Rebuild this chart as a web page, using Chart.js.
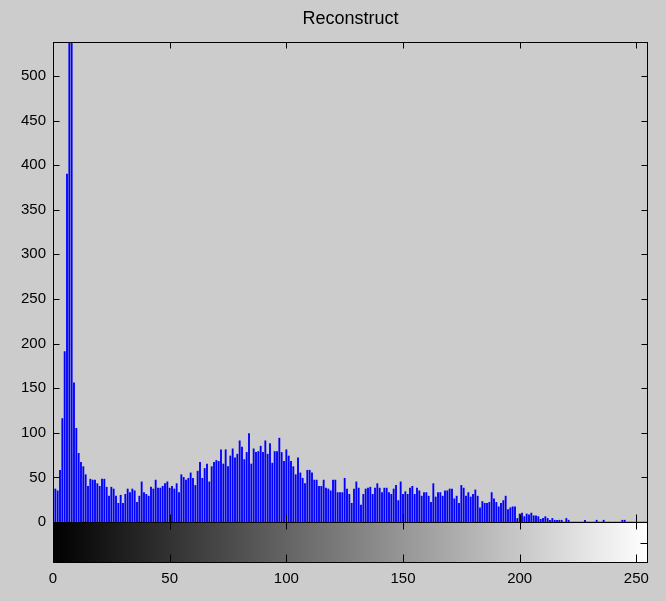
<!DOCTYPE html>
<html><head><meta charset="utf-8">
<script src="https://cdn.jsdelivr.net/npm/chart.js@4.4.1/dist/chart.umd.min.js"></script>
<style>html,body{margin:0;padding:0;background:#cccccc;overflow:hidden}#wrap{width:666px;height:601px}</style>
</head><body><div id="wrap"><canvas id="c" width="666" height="601"></canvas></div>
<script>
const titleText = "Reconstruct";
// histogram counts for intensity levels 0..255
const counts0 = [41,37,35,58,116,191,390,1450,880,156,105,77,67,62,53,40,48,47,47,43,40,48,48,39,29,39,37,29,21,30,21,31,37,33,37,35,22,29,45,33,31,29,39,37,47,38];
const counts1 = [38,40,43,45,38,40,37,43,33,53,50,47,49,55,49,41,57,67,49,60,65,45,62,67,69,68,81,65,81,62,74,82,72,76,91,84,70,78,99,65,82,78,79,85,78];
const counts2 = [91,76,88,66,79,79,94,78,68,81,74,68,62,53,72,55,49,43,58,58,55,47,47,40,40,47,38,37,35,47,47,33,33,33,49,37,31,21,37,45,38,19,31,37,38,39];
const counts3 = [31,38,43,38,33,38,38,33,31,37,41,24,45,31,34,31,38,40,31,38,35,29,33,33,29,22,43,28,33,33,29,35,35,37,37,26,29,21,41,38,29,33,28,31,36];
const counts4 = [29,16,23,21,21,22,33,26,22,17,21,24,29,14,16,17,17,4,9,10,6,9,8,10,7,7,6,3,4,6,4,2,4,2,2,2,2,0,4,2,0,0,0,0,0,0,2,0,0,0,0,2,0,0,2,0,0,0,0,0,0,0,2,2,0,0,0,0,0,0,0,0,0,0];
const counts = counts0.concat(counts1, counts2, counts3, counts4);
const xTicks = [0,50,100,150,200,250];
const yTicks = [0,50,100,150,200,250,300,350,400,450,500];
const xMin = 0, xMax = 255, yMin = 0, yMax = 538;

const tickFont = {family:"'Liberation Sans',Arial,sans-serif", size:15};
const titleFont = {family:"'Liberation Sans',Arial,sans-serif", size:18, weight:'normal'};

const axesPlugin = {
  id: 'matlabAxes',
  afterDraw(chart) {
    const {ctx, chartArea: a, scales: {x, y}} = chart;
    const L = Math.round(a.left) + 0.5, R = Math.round(a.right) - 0.5;
    const T = Math.round(a.top) + 0.5, B = Math.round(a.bottom) + 0.5;
    const cbB = B + 40;
    ctx.save();
    // colorbar
    const g = ctx.createLinearGradient(x.getPixelForValue(xMin), 0, x.getPixelForValue(xMax), 0);
    g.addColorStop(0, '#000000'); g.addColorStop(1, '#ffffff');
    ctx.fillStyle = g;
    ctx.fillRect(L, B, R - L, cbB - B);
    ctx.strokeStyle = '#000'; ctx.lineWidth = 1;
    ctx.strokeRect(L, T, R - L, B - T);
    ctx.strokeRect(L, B, R - L, cbB - B);
    ctx.beginPath();
    yTicks.forEach(v => {
      const py = Math.round(y.getPixelForValue(v)) + 0.5;
      ctx.moveTo(L, py); ctx.lineTo(L + 6, py);
      ctx.moveTo(R, py); ctx.lineTo(R - 6, py);
    });
    xTicks.forEach(v => {
      const px = Math.round(x.getPixelForValue(v)) + 0.5;
      ctx.moveTo(px, T); ctx.lineTo(px, T + 6);
      ctx.moveTo(px, B); ctx.lineTo(px, B - 8);
      ctx.moveTo(px, B); ctx.lineTo(px, B + 7);
      ctx.moveTo(px, cbB); ctx.lineTo(px, cbB - 8);
    });
    const mid = Math.round((B + cbB) / 2) + 0.5;
    ctx.moveTo(R, mid); ctx.lineTo(R - 7, mid);
    ctx.stroke();
    ctx.restore();
  }
};

new Chart(document.getElementById('c'), {
  type: 'bar',
  data: {
    datasets: [{
      data: counts.map((v, i) => ({x: i, y: v})),
      backgroundColor: '#0000ff',
      borderWidth: 0,
      barThickness: 1.2
    }]
  },
  options: {
    responsive: false,
    animation: false,
    layout: {padding: {left: 0, right: 18, top: 0, bottom: 0}},
    plugins: {
      legend: {display: false},
      tooltip: {enabled: false},
      title: {display: true, fullSize: false, text: titleText, color: '#000', font: titleFont, padding: {top: 8, bottom: 12.4}}
    },
    scales: {
      x: {
        type: 'linear', min: xMin, max: xMax, offset: false,
        grid: {display: false, drawTicks: false},
        border: {display: false},
        afterBuildTicks: s => { s.ticks = xTicks.map(v => ({value: v})); },
        afterFit: s => { s.height = 79; s.paddingLeft = 0; s.paddingRight = 0; },
        ticks: {padding: 48, color: '#000', font: tickFont, maxRotation: 0, autoSkip: false, callback: v => String(v)}
      },
      y: {
        type: 'linear', min: yMin, max: yMax,
        grid: {display: false, drawTicks: false},
        border: {display: false},
        afterBuildTicks: s => { s.ticks = yTicks.map(v => ({value: v})); },
        afterFit: s => { s.width = 53; s.paddingTop = 0; s.paddingBottom = 0; },
        ticks: {padding: 7, color: '#000', font: tickFont, autoSkip: false, callback: v => String(v)}
      }
    }
  },
  plugins: [axesPlugin]
});
</script>
</body></html>
